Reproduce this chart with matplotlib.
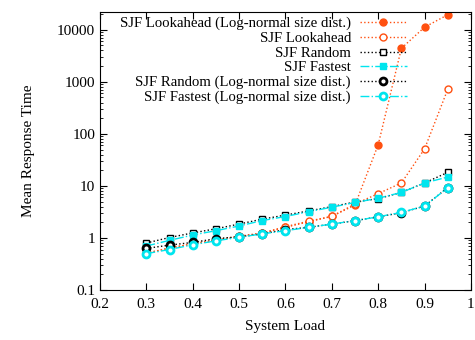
import numpy as np
import matplotlib.pyplot as plt

plt.rcParams['font.family'] = ['Liberation Serif', 'DejaVu Serif']

# dati
load = [0.3, 0.35, 0.4, 0.45, 0.5, 0.55, 0.6, 0.65, 0.7, 0.75, 0.8, 0.85, 0.9, 0.95]

look_ln = [0.50, 0.65, 0.76, 0.90, 1.06, 1.23, 1.6, 2.05, 2.6, 4.3, 62, 4400, 11200, 19400]
look = [0.52, 0.63, 0.78, 0.92, 1.08, 1.25, 1.65, 2.1, 2.6, 4.5, 7.1, 11.4, 51.5, 720]
rand = [0.80, 1.02, 1.25, 1.5, 1.85, 2.3, 2.75, 3.3, 4.0, 4.9, 5.7, 7.5, 11.4, 18.2]
fast = [0.70, 0.90, 1.14, 1.38, 1.7, 2.16, 2.58, 3.2, 3.9, 4.8, 5.8, 7.5, 11.4, 14.8]
rand_ln = [0.63, 0.73, 0.82, 0.97, 1.05, 1.2, 1.45, 1.6, 1.85, 2.15, 2.55, 3.05, 4.1, 9.3]
fast_ln = [0.50, 0.60, 0.74, 0.88, 1.03, 1.2, 1.38, 1.6, 1.85, 2.15, 2.55, 3.1, 4.1, 9.2]

orange = '#ff5010'
cyan = '#00e5ee'

fig = plt.figure(figsize=(4.75, 3.4), dpi=100)
ax = fig.add_axes([0.2105, 0.147, 0.781, 0.818])

ms = 5
ax.plot(load, look_ln, ls=':', color=orange, lw=1, marker='o', ms=ms,
        mfc=orange, mec=orange, label='SJF Lookahead (Log-normal size dist.)')
ax.plot(load, look, ls=':', color=orange, lw=1, marker='o', ms=ms,
        mfc='white', mec=orange, label='SJF Lookahead')
ax.plot(load, rand, ls=':', color='black', lw=1, marker='s', ms=ms,
        mfc='white', mec='black', label='SJF Random')
ax.plot(load, fast, ls='-.', color=cyan, lw=1, marker='s', ms=ms,
        mfc=cyan, mec=cyan, label='SJF Fastest')
ax.plot(load, rand_ln, ls=':', color='black', lw=1, marker='o', ms=ms,
        mfc='white', mec='black', mew=2, label='SJF Random (Log-normal size dist.)')
ax.plot(load, fast_ln, ls='-.', color=cyan, lw=1, marker='o', ms=ms,
        mfc='white', mec=cyan, mew=2, label='SJF Fastest (Log-normal size dist.)')

ax.set_yscale('log')
ax.set_xlim(0.2, 1.0)
ax.set_ylim(0.1, 22000)
ax.set_xticks([0.2, 0.3, 0.4, 0.5, 0.6, 0.7, 0.8, 0.9, 1.0])
ax.set_xticklabels(['0.2', '0.3', '0.4', '0.5', '0.6', '0.7', '0.8', '0.9', '1'])
ax.set_yticks([0.1, 1, 10, 100, 1000, 10000])
ax.set_yticklabels(['0.1', '1', '10', '100', '1000', '10000'])
ax.tick_params(which='both', direction='in', top=True, right=True, labelsize=11)
ax.tick_params(which='major', length=5)
ax.tick_params(which='minor', length=2.5)
ax.tick_params(axis='x', pad=6)

ax.set_xlabel('System Load', fontsize=11, labelpad=6)
ax.set_ylabel('Mean Response Time', fontsize=11, labelpad=16)

ax.legend(loc='upper right', bbox_to_anchor=(0.855, 1.02), frameon=False,
          markerfirst=False, fontsize=10.6, handlelength=3.2, labelspacing=0.1,
          borderpad=0.2, handletextpad=0.6)

fig.savefig('out.png', dpi=100)
